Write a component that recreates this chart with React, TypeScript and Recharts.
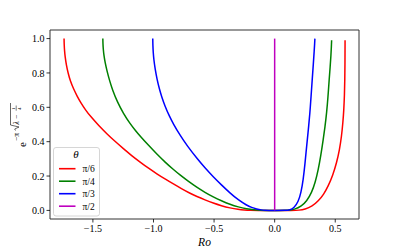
import React from 'react';
import { LineChart, Line, XAxis, YAxis, ReferenceArea } from 'recharts';

const xTicks = [-1.5, -1.0, -0.5, 0.0, 0.5];
const yTicks = [0.0, 0.2, 0.4, 0.6, 0.8, 1.0];

const seriesNames = ['π/6', 'π/4', 'π/3', 'π/2'];
const seriesColors = ['#ff0000', '#008000', '#0000ff', '#bf00bf'];

const redRo = [-1.738, -1.737, -1.734, -1.729, -1.72, -1.705, -1.685, -1.66, -1.63, -1.6, -1.56, -1.523, -1.45, -1.385, -1.318, -1.248, -1.18, -1.11, -1.04, -0.973, -0.9, -0.836, -0.77, -0.7, -0.643, -0.575, -0.506, -0.44, -0.368, -0.3, -0.25, -0.2, -0.15, 0.0, 0.15, 0.2, 0.25, 0.31, 0.36, 0.405, 0.442, 0.48, 0.511, 0.535, 0.552, 0.563, 0.571, 0.576, 0.579, 0.5805, 0.581];
const redY = [1.0, 0.966, 0.928, 0.893, 0.85, 0.8, 0.75, 0.708, 0.6645, 0.627, 0.584, 0.55, 0.492, 0.446, 0.402, 0.359, 0.319, 0.281, 0.245, 0.213, 0.181, 0.154, 0.127, 0.1, 0.081, 0.061, 0.042, 0.027, 0.014, 0.0055, 0.002, 0.0005, 0.0, 0.0, 0.0, 0.001, 0.006, 0.024, 0.054, 0.094, 0.141, 0.205, 0.277, 0.352, 0.432, 0.51, 0.587, 0.67, 0.76, 0.88, 0.99];

const greenRo = [-1.418, -1.417, -1.414, -1.409, -1.399, -1.383, -1.363, -1.339, -1.298, -1.248, -1.193, -1.15, -1.11, -1.04, -0.973, -0.9, -0.836, -0.781, -0.71, -0.643, -0.575, -0.506, -0.44, -0.368, -0.3, -0.231, -0.17, -0.12, -0.08, -0.05, 0.0, 0.12, 0.16, 0.222, 0.265, 0.305, 0.335, 0.36, 0.381, 0.401, 0.416, 0.429, 0.44, 0.45, 0.458, 0.464, 0.468, 0.47];
const greenY = [1.0, 0.968, 0.935, 0.903, 0.859, 0.81, 0.757, 0.703, 0.631, 0.564, 0.505, 0.466, 0.432, 0.378, 0.328, 0.278, 0.238, 0.206, 0.168, 0.135, 0.105, 0.078, 0.056, 0.035, 0.02, 0.0093, 0.0032, 0.0007, 0.0001, 0.0, 0.0, 0.0, 0.005, 0.025, 0.055, 0.103, 0.163, 0.238, 0.32, 0.413, 0.49, 0.568, 0.66, 0.762, 0.835, 0.897, 0.95, 0.99];

const blueRo = [-1.006, -1.005, -1.002, -0.997, -0.987, -0.971, -0.951, -0.932, -0.904, -0.87, -0.836, -0.779, -0.72, -0.643, -0.575, -0.506, -0.44, -0.368, -0.3, -0.231, -0.19, -0.148, -0.11, -0.08, -0.05, 0.0, 0.09, 0.126, 0.16, 0.195, 0.218, 0.236, 0.25, 0.264, 0.278, 0.291, 0.3, 0.31, 0.319, 0.327, 0.33, 0.332];
const blueY = [1.0, 0.959, 0.918, 0.877, 0.825, 0.764, 0.706, 0.661, 0.605, 0.55, 0.503, 0.435, 0.374, 0.304, 0.247, 0.195, 0.149, 0.101, 0.061, 0.03, 0.017, 0.008, 0.0025, 0.0005, 0.0, 0.0, 0.0, 0.002, 0.015, 0.05, 0.105, 0.18, 0.27, 0.374, 0.47, 0.568, 0.66, 0.762, 0.85, 0.936, 0.97, 1.0];

const magentaRo = [0.0, 0.0];
const magentaY = [0.0, 1.0];

const zip = (xs: number[], ys: number[]) => xs.map((x, i) => ({ x, y: ys[i] }));
const seriesData = [zip(redRo, redY), zip(greenRo, greenY), zip(blueRo, blueY), zip(magentaRo, magentaY)];

const XMIN = -1.854;
const XMAX = 0.696;
const YMIN = -0.05;
const YMAX = 1.05;

const serif = '"Liberation Serif", "DejaVu Serif", serif';
const fmt = (v: number) => (v < 0 ? '\u2212' + Math.abs(v).toFixed(1) : v.toFixed(1));

const YLabel = () => (
  <g transform="translate(25.5,125) rotate(-90)" fontFamily={serif} fill="#000">
    <text x={-22} y={0} fontSize={11}>e</text>
    <text x={-16} y={-7} fontSize={7.5}>{'\u2212\u03c0'}</text>
    <path d="M -5.5 -10 L -4 -10.8 L -2 -6.5 L 0 -15 L 22 -15" stroke="#000" strokeWidth={0.6} fill="none" />
    <text x={0.5} y={-7} fontSize={7.5} fontStyle="italic">{'\u03bb'}</text>
    <text x={6} y={-7} fontSize={7.5}>{'\u2212'}</text>
    <text x={15} y={-10.2} fontSize={5}>1</text>
    <line x1={14.3} x2={19.5} y1={-9.3} y2={-9.3} stroke="#000" strokeWidth={0.5} />
    <text x={15} y={-5} fontSize={5}>4</text>
  </g>
);

const LegendBox = () => (
  <svg width={47} height={70} style={{ display: 'block' }}>
    <rect x={0.5} y={0.5} width={46} height={68.5} rx={2.5} fill="#fff" fillOpacity={0.8} stroke="#cccccc" strokeWidth={0.8} />
    <text x={23} y={11} textAnchor="middle" fontFamily={serif} fontStyle="italic" fontSize={11}>{'\u03b8'}</text>
    {seriesNames.map((n, i) => (
      <g key={n}>
        <line x1={6} x2={22.5} y1={21.7 + i * 12.5} y2={21.7 + i * 12.5} stroke={seriesColors[i]} strokeWidth={1.6} />
        <text x={29.5} y={25 + i * 12.5} fontFamily={serif} fontSize={9.5}>{n}</text>
      </g>
    ))}
  </svg>
);

export default function App() {
  return (
    <div style={{ position: 'absolute', left: 0, top: 0, width: 399, height: 247, background: '#fff', fontFamily: serif }}>
      <LineChart width={399} height={247} margin={{ top: 30, right: 40, left: 0, bottom: 0 }} style={{ fontFamily: serif }}>
        <XAxis
          dataKey="x"
          type="number"
          domain={[XMIN, XMAX]}
          ticks={xTicks}
          tickFormatter={fmt}
          allowDataOverflow
          height={28}
          tickSize={3.5}
          tickMargin={2}
          axisLine={false}
          tickLine={{ stroke: '#000', strokeWidth: 0.8 }}
          tick={{ fontFamily: serif, fontSize: 10, fill: '#000' }}
          label={{ value: 'Ro', position: 'insideBottom', offset: 0, fontFamily: serif, fontStyle: 'italic', fontSize: 11.5, fill: '#000', dy: -1 }}
        />
        <YAxis
          dataKey="y"
          type="number"
          domain={[YMIN, YMAX]}
          ticks={yTicks}
          tickFormatter={fmt}
          allowDataOverflow
          width={50}
          tickSize={3.5}
          tickMargin={2}
          axisLine={false}
          tickLine={{ stroke: '#000', strokeWidth: 0.8 }}
          tick={{ fontFamily: serif, fontSize: 10, fill: '#000' }}
          label={<YLabel />}
        />
        <ReferenceArea x1={XMIN} x2={XMAX} y1={YMIN} y2={YMAX} fill="none" stroke="#333" strokeWidth={1} ifOverflow="visible" />
        {seriesData.map((d, i) => (
          <Line
            key={seriesNames[i]}
            data={d}
            dataKey="y"
            name={seriesNames[i]}
            type={i === 3 ? 'linear' : 'basis'}
            stroke={seriesColors[i]}
            strokeWidth={1.5}
            dot={false}
            activeDot={false}
            isAnimationActive={false}
          />
        ))}
      </LineChart>
      <div style={{ position: 'absolute', left: 53, top: 147, width: 47, height: 70 }}>
        <LegendBox />
      </div>
    </div>
  );
}
